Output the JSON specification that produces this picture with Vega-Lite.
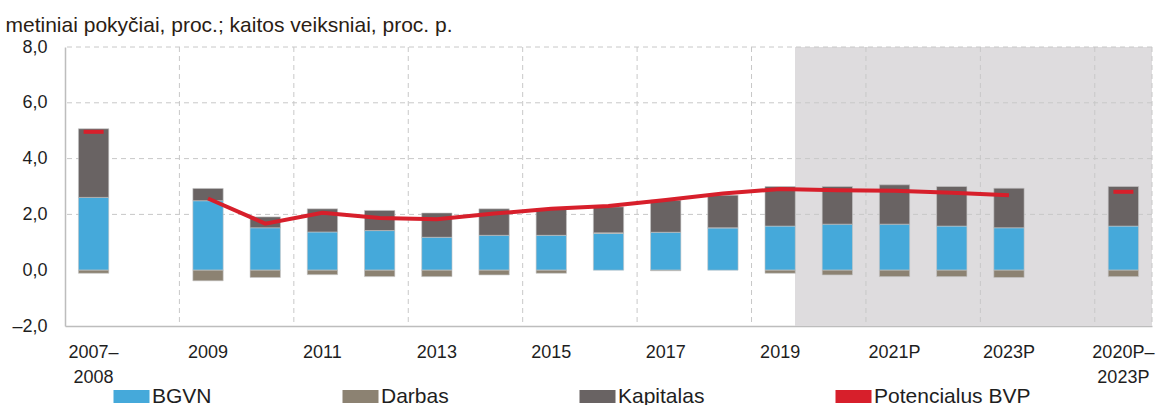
{
  "$schema": "https://vega.github.io/schema/vega-lite/v6.json",
  "width": 1087,
  "height": 279,
  "autosize": {"type": "none"},
  "padding": {"left": 65, "top": 47, "right": 6, "bottom": 79},
  "config": {
    "font": "Liberation Sans",
    "view": {"stroke": null}
  },
  "datasets": {
    "main": [
      {"cat": "2007–2008", "comp": "BGVN", "value": 2.61},
      {"cat": "2007–2008", "comp": "Darbas", "value": -0.11},
      {"cat": "2007–2008", "comp": "Kapitalas", "value": 2.46},
      {"cat": "2007–2008", "comp": "Potencialus BVP", "value": 4.96},
      {"cat": "2009", "comp": "BGVN", "value": 2.49},
      {"cat": "2009", "comp": "Darbas", "value": -0.38},
      {"cat": "2009", "comp": "Kapitalas", "value": 0.44},
      {"cat": "2009", "comp": "Potencialus BVP", "value": 2.57},
      {"cat": "2010", "comp": "BGVN", "value": 1.52},
      {"cat": "2010", "comp": "Darbas", "value": -0.26},
      {"cat": "2010", "comp": "Kapitalas", "value": 0.39},
      {"cat": "2010", "comp": "Potencialus BVP", "value": 1.67},
      {"cat": "2011", "comp": "BGVN", "value": 1.37},
      {"cat": "2011", "comp": "Darbas", "value": -0.16},
      {"cat": "2011", "comp": "Kapitalas", "value": 0.83},
      {"cat": "2011", "comp": "Potencialus BVP", "value": 2.06},
      {"cat": "2012", "comp": "BGVN", "value": 1.42},
      {"cat": "2012", "comp": "Darbas", "value": -0.23},
      {"cat": "2012", "comp": "Kapitalas", "value": 0.72},
      {"cat": "2012", "comp": "Potencialus BVP", "value": 1.87},
      {"cat": "2013", "comp": "BGVN", "value": 1.18},
      {"cat": "2013", "comp": "Darbas", "value": -0.23},
      {"cat": "2013", "comp": "Kapitalas", "value": 0.87},
      {"cat": "2013", "comp": "Potencialus BVP", "value": 1.83},
      {"cat": "2014", "comp": "BGVN", "value": 1.25},
      {"cat": "2014", "comp": "Darbas", "value": -0.17},
      {"cat": "2014", "comp": "Kapitalas", "value": 0.95},
      {"cat": "2014", "comp": "Potencialus BVP", "value": 2.03},
      {"cat": "2015", "comp": "BGVN", "value": 1.25},
      {"cat": "2015", "comp": "Darbas", "value": -0.11},
      {"cat": "2015", "comp": "Kapitalas", "value": 0.93},
      {"cat": "2015", "comp": "Potencialus BVP", "value": 2.2},
      {"cat": "2016", "comp": "BGVN", "value": 1.32},
      {"cat": "2016", "comp": "Darbas", "value": 0.02},
      {"cat": "2016", "comp": "Kapitalas", "value": 0.93},
      {"cat": "2016", "comp": "Potencialus BVP", "value": 2.3},
      {"cat": "2017", "comp": "BGVN", "value": 1.36},
      {"cat": "2017", "comp": "Darbas", "value": -0.02},
      {"cat": "2017", "comp": "Kapitalas", "value": 1.15},
      {"cat": "2017", "comp": "Potencialus BVP", "value": 2.52},
      {"cat": "2018", "comp": "BGVN", "value": 1.52},
      {"cat": "2018", "comp": "Darbas", "value": 0},
      {"cat": "2018", "comp": "Kapitalas", "value": 1.17},
      {"cat": "2018", "comp": "Potencialus BVP", "value": 2.75},
      {"cat": "2019", "comp": "BGVN", "value": 1.58},
      {"cat": "2019", "comp": "Darbas", "value": -0.11},
      {"cat": "2019", "comp": "Kapitalas", "value": 1.42},
      {"cat": "2019", "comp": "Potencialus BVP", "value": 2.91},
      {"cat": "2020P", "comp": "BGVN", "value": 1.65},
      {"cat": "2020P", "comp": "Darbas", "value": -0.17},
      {"cat": "2020P", "comp": "Kapitalas", "value": 1.35},
      {"cat": "2020P", "comp": "Potencialus BVP", "value": 2.87},
      {"cat": "2021P", "comp": "BGVN", "value": 1.65},
      {"cat": "2021P", "comp": "Darbas", "value": -0.23},
      {"cat": "2021P", "comp": "Kapitalas", "value": 1.41},
      {"cat": "2021P", "comp": "Potencialus BVP", "value": 2.85},
      {"cat": "2022P", "comp": "BGVN", "value": 1.58},
      {"cat": "2022P", "comp": "Darbas", "value": -0.23},
      {"cat": "2022P", "comp": "Kapitalas", "value": 1.42},
      {"cat": "2022P", "comp": "Potencialus BVP", "value": 2.78},
      {"cat": "2023P", "comp": "BGVN", "value": 1.52},
      {"cat": "2023P", "comp": "Darbas", "value": -0.26},
      {"cat": "2023P", "comp": "Kapitalas", "value": 1.42},
      {"cat": "2023P", "comp": "Potencialus BVP", "value": 2.69},
      {"cat": "2020P–2023P", "comp": "BGVN", "value": 1.58},
      {"cat": "2020P–2023P", "comp": "Darbas", "value": -0.23},
      {"cat": "2020P–2023P", "comp": "Kapitalas", "value": 1.42},
      {"cat": "2020P–2023P", "comp": "Potencialus BVP", "value": 2.81}
    ]
  },
  "layer": [
    {
      "layer": [
        {
          "data": {"values": [{"start": 12.76, "end": 19}]},
          "mark": {"type": "rect", "color": "#dedcde"},
          "encoding": {
            "x": {"field": "start", "type": "quantitative", "scale": {"domain": [0, 19], "nice": false, "zero": false}, "axis": null},
            "x2": {"field": "end"}
          }
        },
        {
          "data": {"values": [{"b": 2}, {"b": 4}, {"b": 6}, {"b": 8}, {"b": 10}, {"b": 12}, {"b": 14}, {"b": 16}, {"b": 18}, {"b": 19}]},
          "mark": {"type": "rule", "color": "#c8c8c8", "strokeDash": [5, 4], "strokeWidth": 1},
          "encoding": {
            "x": {"field": "b", "type": "quantitative", "axis": null}
          }
        },
        {
          "data": {"values": [{"g": 2}, {"g": 4}, {"g": 6}, {"g": 8}]},
          "mark": {"type": "rule", "color": "#c8c8c8", "strokeDash": [5, 4], "strokeWidth": 1},
          "encoding": {
            "y": {"field": "g", "type": "quantitative", "title": "metiniai pokyčiai, proc.; kaitos veiksniai, proc. p."}
          }
        }
      ]
    },
    {
      "data": {"name": "main"},
      "encoding": {
        "x": {
          "field": "cat",
          "type": "nominal",
          "sort": null,
          "scale": {
            "domain": ["2007–2008", "g1", "2009", "2010", "2011", "2012", "2013", "2014", "2015", "2016", "2017", "2018", "2019", "2020P", "2021P", "2022P", "2023P", "g2", "2020P–2023P"],
            "paddingInner": 0.47,
            "paddingOuter": 0.235
          },
          "axis": {
            "values": ["2007–2008", "2009", "2011", "2013", "2015", "2017", "2019", "2021P", "2023P", "2020P–2023P"],
            "labelExpr": "datum.value == '2007–2008' ? ['2007–', '2008'] : datum.value == '2020P–2023P' ? ['2020P–', '2023P'] : datum.value",
            "title": null,
            "grid": false,
            "ticks": false,
            "domain": true,
            "domainColor": "#bdbdbd",
            "domainWidth": 1.5,
            "labelAngle": 0,
            "labelFontSize": 18,
            "labelColor": "#1e1e1e",
            "labelPadding": 17,
            "labelLineHeight": 25,
            "labelOverlap": false,
            "labelBound": false
          }
        }
      },
      "layer": [
        {
          "transform": [{"filter": "datum.comp != 'Potencialus BVP'"}],
          "mark": {"type": "bar", "stroke": "#c4c4c4", "strokeWidth": 0.6},
          "encoding": {
            "y": {
              "field": "value",
              "type": "quantitative",
              "stack": "zero",
              "title": "metiniai pokyčiai, proc.; kaitos veiksniai, proc. p.",
              "scale": {"domain": [-2, 8], "nice": false},
              "axis": {
                "values": [-2, 0, 2, 4, 6, 8],
                "labelExpr": "replace(replace(format(datum.value, '.1f'), '.', ','), '−', '–')",
                "grid": false,
                "ticks": false,
                "domain": true,
                "domainColor": "#bdbdbd",
                "domainWidth": 1.5,
                "labelFontSize": 18,
                "labelColor": "#1e1e1e",
                "labelPadding": 18,
                "titleAngle": 0,
                "titleX": -60,
                "titleY": -16,
                "titleAlign": "left",
                "titleBaseline": "alphabetic",
                "titleFontSize": 21,
                "titleFontWeight": "normal",
                "titleColor": "#2b1d14"
              }
            },
            "order": {"field": "comp", "sort": "ascending"},
            "color": {
              "field": "comp",
              "type": "nominal",
              "scale": {
                "domain": ["BGVN", "Darbas", "Kapitalas", "Potencialus BVP"],
                "range": ["#45a9da", "#8c8272", "#696363", "#d71f2b"]
              },
              "legend": {
                "title": null,
                "orient": "none",
                "legendX": 56,
                "legendY": 339,
                "direction": "horizontal",
                "columns": 4,
                "gridAlign": "none",
                "columnPadding": 130,
                "padding": 0,
                "labelFontSize": 21,
                "labelColor": "#1e1e1e",
                "labelOffset": 10,
                "labelLimit": 300,
                "symbolSize": 324,
                "symbolType": "M-2,-0.72H2V0.72H-2Z",
                "symbolStrokeWidth": 0,
                "symbolOpacity": 1,
                "encode": {
                  "symbols": {
                    "update": {
                      "shape": {"signal": "datum.value === 'Potencialus BVP' ? 'M-2,-0.22H2V0.22H-2Z' : 'M-2,-0.72H2V0.72H-2Z'"},
                      "fill": {"scale": "color", "field": "value"},
                      "strokeWidth": {"value": 0}
                    }
                  }
                }
              }
            }
          }
        },
        {
          "mark": {"type": "rule", "color": "#b5b5b5", "strokeWidth": 1.5},
          "encoding": {
            "y": {"datum": 0, "type": "quantitative"}
          }
        },
        {
          "transform": [{"filter": "datum.comp == 'Potencialus BVP' && indexof(datum.cat, '–') < 0"}],
          "mark": {"type": "line", "strokeWidth": 4},
          "encoding": {
            "y": {"field": "value", "type": "quantitative", "title": "metiniai pokyčiai, proc.; kaitos veiksniai, proc. p."},
            "color": {"field": "comp", "type": "nominal"}
          }
        },
        {
          "transform": [{"filter": "datum.comp == 'Potencialus BVP' && indexof(datum.cat, '–') >= 0"}],
          "mark": {"type": "tick", "color": "#d71f2b", "thickness": 4, "size": 20, "opacity": 1},
          "encoding": {
            "y": {"field": "value", "type": "quantitative", "title": "metiniai pokyčiai, proc.; kaitos veiksniai, proc. p."}
          }
        }
      ]
    }
  ],
  "resolve": {"scale": {"x": "independent"}}
}
